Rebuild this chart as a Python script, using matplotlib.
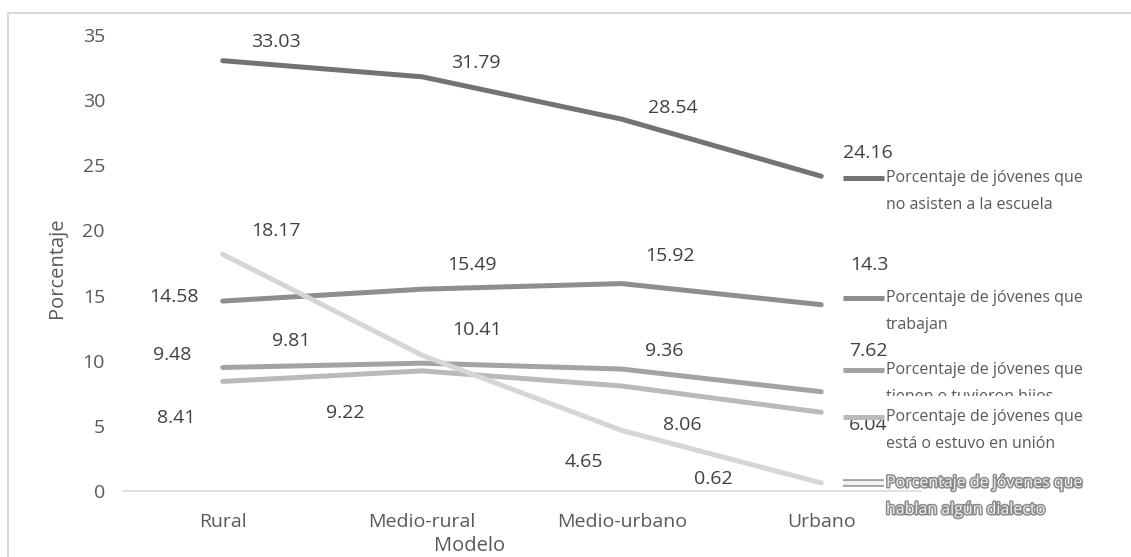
import matplotlib.pyplot as plt
import matplotlib.patheffects as pe
from matplotlib.patches import Rectangle
from matplotlib.lines import Line2D

plt.rcParams['font.family'] = ['Open Sans', 'DejaVu Sans']

categorias = ["Rural", "Medio-rural", "Medio-urbano", "Urbano"]

no_asisten = [33.03, 31.79, 28.54, 24.16]
trabajan = [14.58, 15.49, 15.92, 14.3]
hijos = [9.48, 9.81, 9.36, 7.62]
union = [8.41, 9.22, 8.06, 6.04]
dialecto = [18.17, 10.41, 4.65, 0.62]

nombres = [
    "Porcentaje de jóvenes que\nno asisten a la escuela",
    "Porcentaje de jóvenes que\ntrabajan",
    "Porcentaje de jóvenes que\ntienen o tuvieron hijos",
    "Porcentaje de jóvenes que\nestá o estuvo en unión",
    "Porcentaje de jóvenes que\nhablan algún dialecto",
]

series = [no_asisten, trabajan, hijos, union, dialecto]
colores = ["#737373", "#8e8e8e", "#a3a3a3", "#bababa", "#d6d6d6"]

# label offsets (pixels) from each point
desplaz = [
    [(53, 19), (54, 14), (51, 11), (47, 23)],
    [(-49, 4), (50, 24), (48, 28), (48, 40)],
    [(-51, 12), (-131, 22), (42, 18), (47, 41)],
    [(-47, -37), (-77, -42), (61, -39), (47, -13)],
    [(53, 23), (55, 25), (-38, -32), (-108, 4)],
]

W, H = 1131, 557
fig = plt.figure(figsize=(W / 100, H / 100), dpi=100)
ax = fig.add_axes([123 / W, 1 - 491 / H, (921 - 123) / W, (491 - 35) / H])

x = range(len(categorias))
for vals, col, offs in zip(series, colores, desplaz):
    ax.plot(x, vals, color=col, lw=3.6, solid_capstyle='round',
            solid_joinstyle='round', zorder=3)
    for xi, v, (dx, dy) in zip(x, vals, offs):
        ax.annotate(f"{v:g}", (xi, v), xytext=(dx, dy), textcoords='offset pixels',
                    ha='center', va='center', fontsize=14, color='#404040',
                    zorder=4)

ax.set_xlim(-0.5, 3.5)
ax.set_ylim(0, 35)
ax.set_yticks(range(0, 36, 5))
ax.set_xticks(list(x))
ax.set_xticklabels(categorias)
for s in ['top', 'right', 'left']:
    ax.spines[s].set_visible(False)
ax.spines['bottom'].set_color('#d9d9d9')
ax.spines['bottom'].set_linewidth(1.2)
ax.tick_params(axis='both', length=0, labelsize=14, labelcolor='#595959')
ax.tick_params(axis='y', pad=13)
ax.tick_params(axis='x', pad=16)
ax.set_ylabel("Porcentaje", fontsize=14.5, color='#595959')
ax.yaxis.set_label_coords(-56 / (921 - 123), 0.49)
fig.text(470 / W, 1 - 546 / H, "Modelo", fontsize=14.5, color='#595959',
         ha='center', va='center')

# chart border
fig.add_artist(Line2D([8 / W, 8 / W], [0, 1 - 13 / H], color='#d9d9d9', lw=1.5,
                      transform=fig.transFigure))
fig.add_artist(Line2D([8 / W, 1], [1 - 13 / H, 1 - 13 / H], color='#d9d9d9', lw=1.5,
                      transform=fig.transFigure))

# legend on the right
filas = [178, 298, 370, 417, 483]
for i, (nombre, col, yp) in enumerate(zip(nombres, colores, filas)):
    yf = 1 - yp / H
    ln = Line2D([843 / W, 884 / W], [yf, yf], color=col, lw=3.6,
                solid_capstyle='butt', transform=fig.transFigure)
    primera, segunda = nombre.split("\n")
    t1 = fig.text(886 / W, yf, primera, fontsize=11.5, color='#595959',
                  va='center', ha='left')
    t2 = fig.text(886 / W, yf - 27 / H, segunda, fontsize=11.5, color='#595959',
                  va='center', ha='left')
    if i == 2:
        # second line is cut by the next entry
        clip = Rectangle((0, 1 - 396 / H), 1, 396 / H, transform=fig.transFigure)
        t2.set_clip_path(clip)
    if i == 4:
        ln.set_color('#f2f2f2')
        ln.set_path_effects([pe.withStroke(linewidth=5.5, foreground='#9a9a9a')])
        ln.set_linewidth(3.0)
        for t in (t1, t2):
            t.set_color('#f0f0f0')
            t.set_path_effects([pe.withStroke(linewidth=2.2, foreground='#8a8a8a')])
    fig.add_artist(ln)

fig.savefig("out.png", dpi=100)
